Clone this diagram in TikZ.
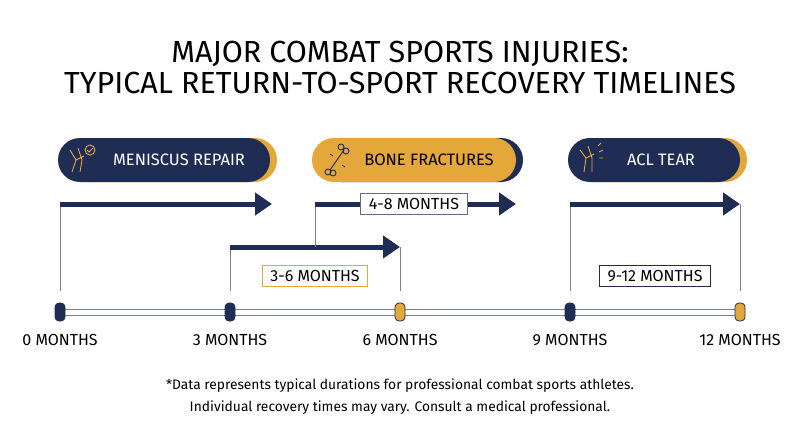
\documentclass[tikz,border=0pt]{standalone}
\usepackage{fontspec}
\setmainfont{Fira Sans}
\usetikzlibrary{positioning, arrows.meta, shapes.misc, calc}
\definecolor{navy}{HTML}{1F2D55}
\definecolor{gold}{HTML}{E3A73A}
\definecolor{rail}{HTML}{7A8196}

\begin{document}
\begin{tikzpicture}[x=1pt, y=-1pt,
    pill/.style={rounded rectangle, fill=#1, minimum height=44pt,
                 inner sep=0pt, font=\fontsize{16.5}{18}\selectfont},
    mark/.style={draw=navy, fill=#1, rounded corners=4pt, line width=0.8pt,
                 minimum width=10pt, minimum height=18pt, inner sep=0pt},
    span/.style={-{Triangle[length=17pt, width=22pt]}, line width=5pt, navy},
    tick/.style={line width=1pt, rail},
    tag/.style={draw=#1, fill=white, line width=1pt, inner xsep=8pt,
                inner ysep=5pt, font=\fontsize{16}{18}\selectfont},
    axis/.style={font=\fontsize{16}{18}\selectfont}
]
\useasboundingbox (0,0) rectangle (800,447);

% ---- Title ----
\node[font=\fontsize{30.5}{31}\selectfont, align=center] (title) at (400,67)
     {MAJOR COMBAT SPORTS INJURIES:\\TYPICAL RETURN-TO-SPORT RECOVERY TIMELINES};

% ---- Injury pills (shadow first) ----
\node[pill=gold, minimum width=212pt] at (171,160) {};
\node[pill=navy, minimum width=212pt, text=white] (meni) at (164,160)
     {\hspace*{30pt}MENISCUS REPAIR};
\node[pill=navy, minimum width=204pt] at (421,160) {};
\node[pill=gold, minimum width=204pt] (bone) at (414,160)
     {\hspace*{30pt}BONE FRACTURES};
\node[pill=gold, minimum width=172pt] at (661,160) {};
\node[pill=navy, minimum width=172pt, text=white] (acl) at (654,160)
     {\hspace*{14pt}ACL TEAR};

% simple icons
\begin{scope}[gold, line width=0.9pt]
  \draw (72,172) -- (76,160) -- (70,150) (80,172) -- (82,160) -- (78,148)
        (76,160) -- (84,156);
  \draw (90,150) circle (5pt);
  \draw (87,150) -- (89,152) -- (93,148);
  \draw[navy, line width=0.9pt] (330,170) -- (344,150);
  \draw[navy, line width=0.9pt] (328,172) circle (3pt) (333,173) circle (3pt)
        (341,147) circle (3pt) (346,151) circle (3pt);
  \draw[navy, line width=0.7pt] (333,156) -- (330,154) (342,165) -- (345,167);
  \draw (584,172) -- (586,158) -- (580,150) (592,172) -- (592,158) -- (588,146)
        (586,158) -- (594,154);
  \draw (599,152) -- (603,150) (599,158) -- (603,158) (598,146) -- (601,143);
\end{scope}

% ---- Timeline ----
\draw[rail, line width=0.8pt, fill=white] (60,309) rectangle (740,315);
\foreach \n/\x/\c/\t in {m0/60/navy/0, m3/230/navy/3, m6/400/gold/6,
                         m9/570/navy/9, m12/740/gold/12} {
  \node[mark=\c] (\n) at (\x,312) {};
  \node[axis, below=9pt of \n] {\t\ MONTHS};
}

% ---- Spans ----
\coordinate (a0) at (60,204);
\coordinate (a1) at (272,204);
\draw[tick] (m0.north) ++(0,-12) -- (a0);
\draw[span] (a0) -- (a1);

\coordinate (c0) at (230,247);
\coordinate (c1) at (400,247);
\draw[tick] (m3.north) ++(0,-12) -- (c0);
\draw[tick] (m6.north) ++(0,-12) -- (c1);
\draw[span] (c0) -- (c1);
\node[tag=gold] (t36) at (315,276) {3-6 MONTHS};

\coordinate (b0) at (315,204);
\coordinate (b1) at (516,204);
\draw[tick] (315,247) -- (b0);
\draw[span] (b0) -- (b1);
\node[tag=navy!70] (t48) at (414,204) {4-8 MONTHS};

\coordinate (d0) at (570,204);
\coordinate (d1) at (740,204);
\draw[tick] (m9.north) ++(0,-12) -- (d0);
\draw[tick] (m12.north) ++(0,-12) -- (d1);
\draw[span] (d0) -- (d1);
\node[tag=navy] (t912) at (655,276) {9-12 MONTHS};

% ---- Footnote ----
\node[font=\fontsize{13.8}{22}\selectfont, align=center] (foot) at (400,397)
     {*Data represents typical durations for professional combat sports athletes.\\
      Individual recovery times may vary. Consult a medical professional.};
\end{tikzpicture}
\end{document}
